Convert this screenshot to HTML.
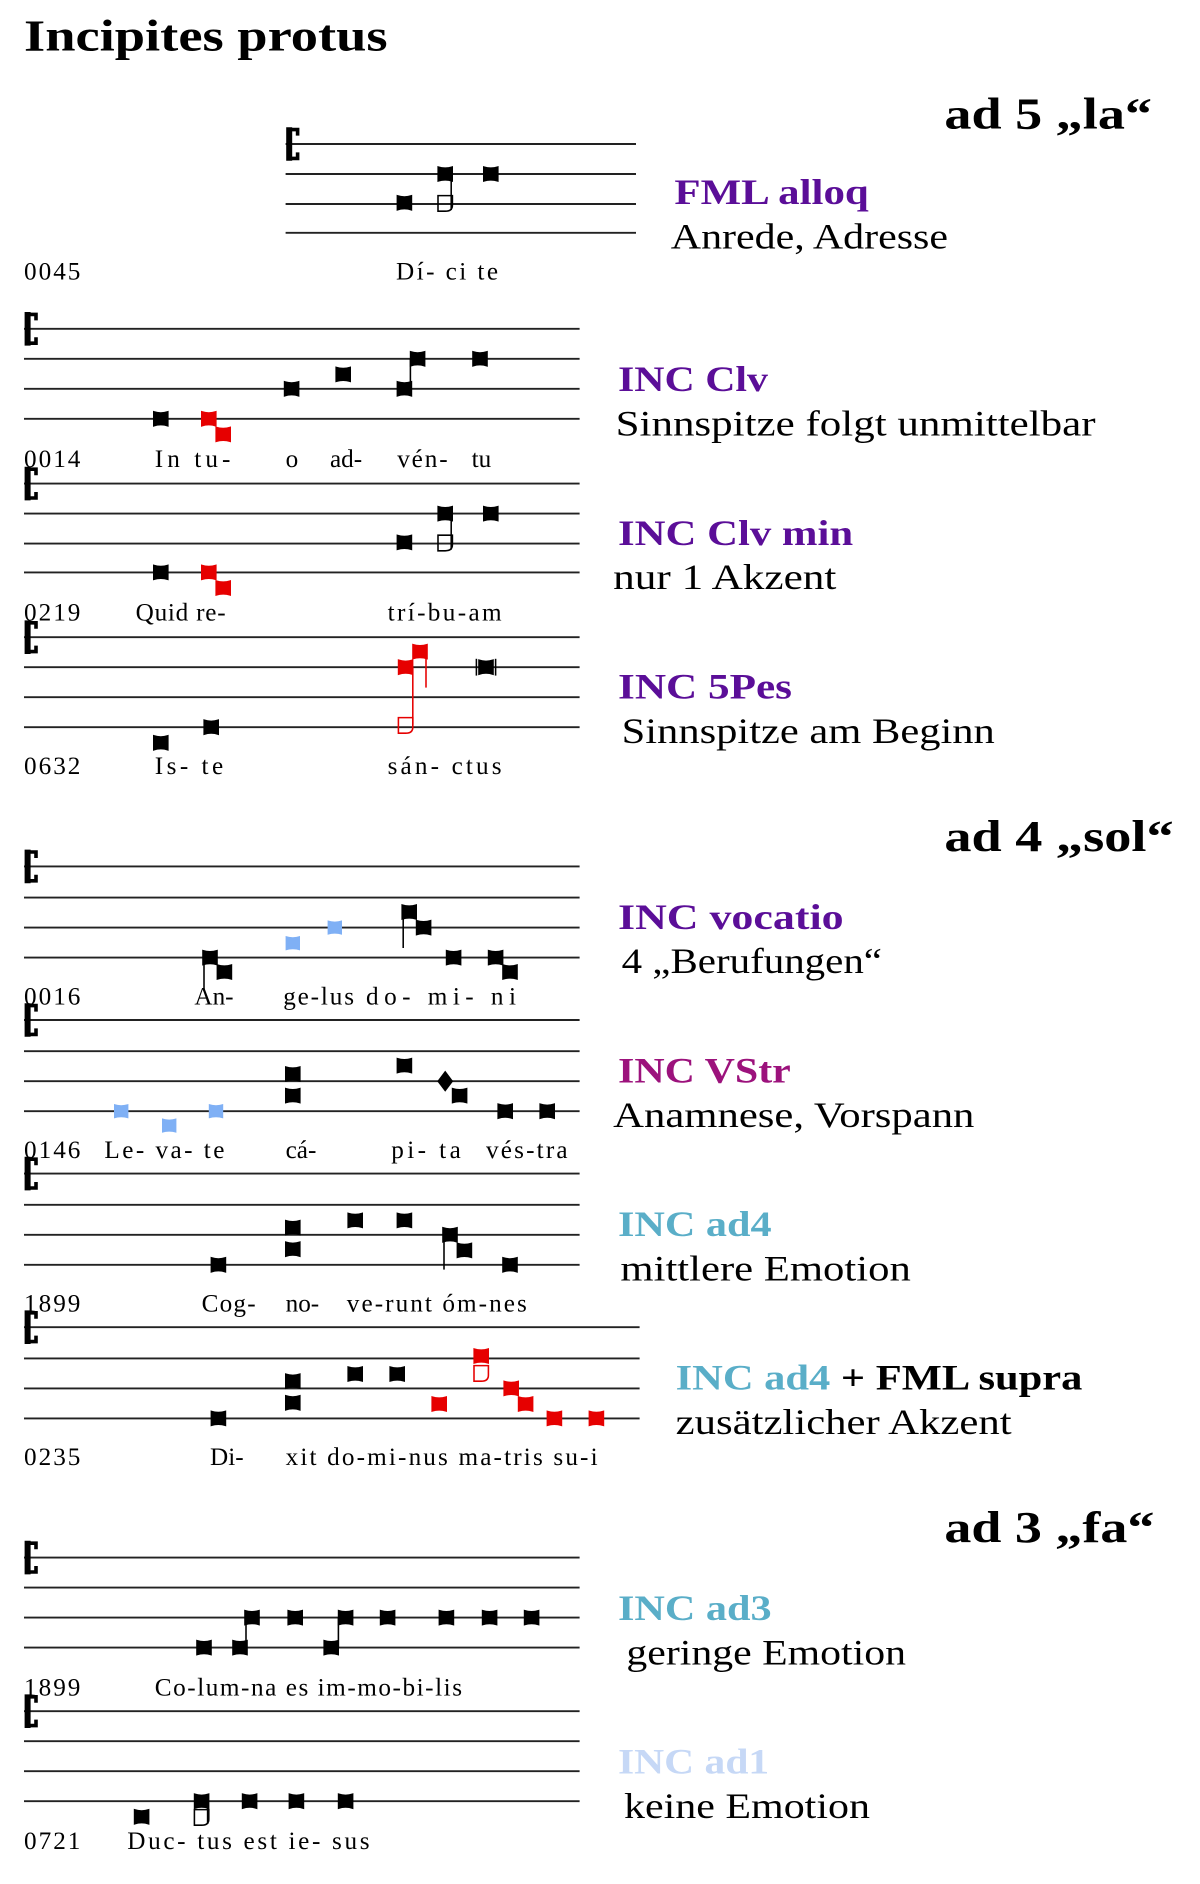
<!DOCTYPE html>
<html><head><meta charset="utf-8"><style>
html,body{margin:0;padding:0;background:#fff;}
svg{display:block;}
text{font-family:"Liberation Serif",serif;}
.b{font-weight:bold;}
.ad{font-size:37px;font-weight:bold;}
</style></head><body>
<svg width="1200" height="1884" viewBox="0 0 1000 1570" xmlns="http://www.w3.org/2000/svg">
<defs>
<path id="n" d="M-6,-6 Q0,-4 6,-6 L6,6 Q0,4 -6,6 Z"/>
<path id="h" d="M-6,-6 L6,-6 L6,2 Q6,7 0,7 L-6,7 Z" fill="none" stroke-width="1.3"/>
<g id="c"><path d="M0,0 L0,28" stroke="#000" stroke-width="5"/><path d="M2,2 h5 v5 M2,26 h5 v-5" stroke="#000" stroke-width="3" fill="none"/></g>
</defs>
<text x="20" y="42" font-size="37" font-weight="bold" textLength="303" lengthAdjust="spacingAndGlyphs">Incipites protus</text>

<g stroke="#222" stroke-width="1.6">
<line x1="238" x2="530" y1="120" y2="120"/><line x1="238" x2="530" y1="145" y2="145"/><line x1="238" x2="530" y1="170" y2="170"/><line x1="238" x2="530" y1="194" y2="194"/>
<line x1="20" x2="483" y1="274" y2="274"/><line x1="20" x2="483" y1="299" y2="299"/><line x1="20" x2="483" y1="324" y2="324"/><line x1="20" x2="483" y1="349" y2="349"/>
<line x1="20" x2="483" y1="403" y2="403"/><line x1="20" x2="483" y1="428" y2="428"/><line x1="20" x2="483" y1="453" y2="453"/><line x1="20" x2="483" y1="477" y2="477"/>
<line x1="20" x2="483" y1="531" y2="531"/><line x1="20" x2="483" y1="556" y2="556"/><line x1="20" x2="483" y1="581" y2="581"/><line x1="20" x2="483" y1="606" y2="606"/>
<line x1="20" x2="483" y1="722" y2="722"/><line x1="20" x2="483" y1="748" y2="748"/><line x1="20" x2="483" y1="773" y2="773"/><line x1="20" x2="483" y1="798" y2="798"/>
<line x1="20" x2="483" y1="850" y2="850"/><line x1="20" x2="483" y1="876" y2="876"/><line x1="20" x2="483" y1="901" y2="901"/><line x1="20" x2="483" y1="926" y2="926"/>
<line x1="20" x2="483" y1="978" y2="978"/><line x1="20" x2="483" y1="1004" y2="1004"/><line x1="20" x2="483" y1="1029" y2="1029"/><line x1="20" x2="483" y1="1054" y2="1054"/>
<line x1="20" x2="533" y1="1106" y2="1106"/><line x1="20" x2="533" y1="1132" y2="1132"/><line x1="20" x2="533" y1="1157" y2="1157"/><line x1="20" x2="533" y1="1182" y2="1182"/>
<line x1="20" x2="483" y1="1298" y2="1298"/><line x1="20" x2="483" y1="1323" y2="1323"/><line x1="20" x2="483" y1="1348" y2="1348"/><line x1="20" x2="483" y1="1373" y2="1373"/>
<line x1="20" x2="483" y1="1426" y2="1426"/><line x1="20" x2="483" y1="1451" y2="1451"/><line x1="20" x2="483" y1="1476" y2="1476"/><line x1="20" x2="483" y1="1501" y2="1501"/>
</g>
<use href="#c" x="241" y="106"/><use href="#c" x="23" y="260"/><use href="#c" x="23" y="389"/><use href="#c" x="23" y="517"/>
<use href="#c" x="23" y="708"/><use href="#c" x="23" y="836"/><use href="#c" x="23" y="964"/><use href="#c" x="23" y="1092"/>
<use href="#c" x="23" y="1284"/><use href="#c" x="23" y="1412"/>

<g fill="#000" stroke="#000">
<use href="#n" x="337" y="169"/><use href="#n" x="371" y="145"/><use href="#h" x="371" y="169" fill="none"/><line x1="376" x2="376" y1="145" y2="175" stroke-width="1.3"/><use href="#n" x="409" y="145"/>
<use href="#n" x="134" y="349"/><use href="#n" x="243" y="324"/><use href="#n" x="286" y="312"/><use href="#n" x="337" y="324"/><line x1="342" x2="342" y1="299" y2="324" stroke-width="1.3"/><use href="#n" x="348" y="299"/><use href="#n" x="400" y="299"/>
<use href="#n" x="134" y="477"/><use href="#n" x="337" y="452"/><use href="#n" x="371" y="428"/><use href="#h" x="371" y="452" fill="none"/><line x1="376" x2="376" y1="428" y2="458" stroke-width="1.3"/><use href="#n" x="409" y="428"/>
<use href="#n" x="134" y="619"/><use href="#n" x="176" y="606"/>
<use href="#n" x="405" y="556"/><line x1="397" x2="397" y1="549" y2="563" stroke-width="1.3"/><line x1="413" x2="413" y1="549" y2="563" stroke-width="1.3"/>
<use href="#n" x="175" y="798"/><line x1="170" x2="170" y1="798" y2="826" stroke-width="1.3"/><use href="#n" x="187" y="810"/>
<use href="#n" x="341" y="760"/><line x1="336" x2="336" y1="760" y2="790" stroke-width="1.3"/><use href="#n" x="353" y="773"/><use href="#n" x="378" y="798"/><use href="#n" x="413" y="798"/><use href="#n" x="425" y="810"/>
<use href="#n" x="244" y="895"/><use href="#n" x="244" y="913"/><use href="#n" x="337" y="888"/><path d="M371,893 L377,901 L371,909 L365,901Z"/><use href="#n" x="383" y="913"/><use href="#n" x="421" y="926"/><use href="#n" x="456" y="926"/>
<use href="#n" x="182" y="1054"/><use href="#n" x="244" y="1023"/><use href="#n" x="244" y="1041"/><use href="#n" x="296" y="1017"/><use href="#n" x="337" y="1017"/>
<use href="#n" x="375" y="1029"/><line x1="370" x2="370" y1="1029" y2="1058" stroke-width="1.3"/><use href="#n" x="387" y="1042"/><use href="#n" x="425" y="1054"/>
<use href="#n" x="182" y="1182"/><use href="#n" x="244" y="1151"/><use href="#n" x="244" y="1169"/><use href="#n" x="296" y="1145"/><use href="#n" x="331" y="1145"/>
<use href="#n" x="170" y="1373"/><use href="#n" x="200" y="1373"/><line x1="205" x2="205" y1="1348" y2="1373" stroke-width="1.3"/><use href="#n" x="210" y="1348"/><use href="#n" x="246" y="1348"/>
<use href="#n" x="276" y="1373"/><line x1="282" x2="282" y1="1348" y2="1373" stroke-width="1.3"/><use href="#n" x="288" y="1348"/><use href="#n" x="323" y="1348"/><use href="#n" x="372" y="1348"/><use href="#n" x="408" y="1348"/><use href="#n" x="443" y="1348"/>
<use href="#n" x="118" y="1514"/><use href="#n" x="168" y="1501"/><use href="#h" x="168" y="1514" fill="none"/><line x1="173" x2="173" y1="1501" y2="1520" stroke-width="1.3"/><use href="#n" x="208" y="1501"/><use href="#n" x="247" y="1501"/><use href="#n" x="288" y="1501"/>
</g>
<g fill="#e60000" stroke="#e60000">
<use href="#n" x="174" y="349"/><use href="#n" x="186" y="362"/>
<use href="#n" x="174" y="477"/><use href="#n" x="186" y="490"/>
<use href="#n" x="338" y="556"/><line x1="344" x2="344" y1="556" y2="604" stroke-width="1.3"/><use href="#h" x="338" y="604" fill="none"/><use href="#n" x="350" y="543"/><line x1="355" x2="355" y1="543" y2="573" stroke-width="1.3"/>
<use href="#n" x="401" y="1130"/><use href="#h" x="401" y="1144" fill="none"/><use href="#n" x="366" y="1170"/><use href="#n" x="426" y="1157"/><use href="#n" x="438" y="1170"/><use href="#n" x="462" y="1182"/><use href="#n" x="497" y="1182"/>
</g>
<g fill="#7fb0f5">
<use href="#n" x="244" y="786"/><use href="#n" x="279" y="773"/>
<use href="#n" x="101" y="926"/><use href="#n" x="141" y="938"/><use href="#n" x="180" y="926"/>
</g>

<g font-size="21" lengthAdjust="spacingAndGlyphs">
<text x="20" y="233" textLength="47">0045</text><text x="330" y="233" textLength="85">Dí- ci  te</text>
<text x="20" y="389" textLength="47">0014</text><text x="129" y="389" textLength="63">In  tu-</text><text x="238" y="389">o</text><text x="275" y="389">ad-</text><text x="331" y="389" textLength="42">vén-</text><text x="393" y="389">tu</text>
<text x="20" y="517" textLength="47">0219</text><text x="113" y="517" textLength="75">Quid re-</text><text x="323" y="517" textLength="95">trí-bu-am</text>
<text x="20" y="645" textLength="47">0632</text><text x="129" y="645" textLength="57">Is-  te</text><text x="323" y="645" textLength="95">sán-  ctus</text>
<text x="20" y="837" textLength="47">0016</text><text x="162" y="837">An-</text><text x="236" y="837" textLength="59">ge-lus</text><text x="305" y="837" textLength="125">do- mi- ni</text>
<text x="20" y="965" textLength="47">0146</text><text x="87" y="965" textLength="100">Le- va-  te</text><text x="238" y="965">cá-</text><text x="326" y="965" textLength="58">pi-  ta</text><text x="405" y="965" textLength="68">vés-tra</text>
<text x="20" y="1093" textLength="47">1899</text><text x="168" y="1093" textLength="45">Cog-</text><text x="238" y="1093">no-</text><text x="289" y="1093" textLength="150">ve-runt óm-nes</text>
<text x="20" y="1221" textLength="47">0235</text><text x="175" y="1221">Di-</text><text x="238" y="1221" textLength="260">xit  do-mi-nus ma-tris su-i</text>
<text x="20" y="1413" textLength="47">1899</text><text x="129" y="1413" textLength="256">Co-lum-na es im-mo-bi-lis</text>
<text x="20" y="1541" textLength="47">0721</text><text x="106" y="1541" textLength="202">Duc- tus est  ie- sus</text>
</g>

<g lengthAdjust="spacingAndGlyphs">
<text class="ad" x="787" y="107" textLength="173" lengthAdjust="spacingAndGlyphs">ad 5  „la“</text>
<text class="ad" x="787" y="709" textLength="191" lengthAdjust="spacingAndGlyphs">ad 4  „sol“</text>
<text class="ad" x="787" y="1285" textLength="175" lengthAdjust="spacingAndGlyphs">ad 3  „fa“</text>
</g>

<g font-size="30">
<text class="b" x="562" y="170" fill="#5b0e98" textLength="162" lengthAdjust="spacingAndGlyphs">FML alloq</text><text x="559" y="207" textLength="231" lengthAdjust="spacingAndGlyphs">Anrede, Adresse</text>
<text class="b" x="515" y="326" fill="#5b0e98" textLength="125" lengthAdjust="spacingAndGlyphs">INC Clv</text><text x="513" y="363" textLength="400" lengthAdjust="spacingAndGlyphs">Sinnspitze folgt unmittelbar</text>
<text class="b" x="515" y="454" fill="#5b0e98" textLength="196" lengthAdjust="spacingAndGlyphs">INC Clv min</text><text x="511" y="491" textLength="186" lengthAdjust="spacingAndGlyphs">nur 1 Akzent</text>
<text class="b" x="515" y="582" fill="#5b0e98" textLength="145" lengthAdjust="spacingAndGlyphs">INC 5Pes</text><text x="518" y="619" textLength="311" lengthAdjust="spacingAndGlyphs">Sinnspitze am Beginn</text>
<text class="b" x="515" y="774" fill="#5b0e98" textLength="188" lengthAdjust="spacingAndGlyphs">INC vocatio</text><text x="518" y="811" textLength="217" lengthAdjust="spacingAndGlyphs">4 „Berufungen“</text>
<text class="b" x="515" y="902" fill="#9c127c" textLength="144" lengthAdjust="spacingAndGlyphs">INC VStr</text><text x="511" y="939" textLength="301" lengthAdjust="spacingAndGlyphs">Anamnese, Vorspann</text>
<text class="b" x="515" y="1030" fill="#5aaec8" textLength="128" lengthAdjust="spacingAndGlyphs">INC ad4</text><text x="517" y="1067" textLength="242" lengthAdjust="spacingAndGlyphs">mittlere Emotion</text>
<text class="b" x="563" y="1158" textLength="339" lengthAdjust="spacingAndGlyphs"><tspan fill="#5aaec8">INC ad4</tspan> + FML supra</text><text x="563" y="1195" textLength="280" lengthAdjust="spacingAndGlyphs">zusätzlicher Akzent</text>
<text class="b" x="515" y="1350" fill="#5aaec8" textLength="128" lengthAdjust="spacingAndGlyphs">INC ad3</text><text x="522" y="1387" textLength="233" lengthAdjust="spacingAndGlyphs">geringe Emotion</text>
<text class="b" x="515" y="1478" fill="#c6d8f6" textLength="126" lengthAdjust="spacingAndGlyphs">INC ad1</text><text x="520" y="1515" textLength="205" lengthAdjust="spacingAndGlyphs">keine Emotion</text>
</g>
</svg>
</body></html>
